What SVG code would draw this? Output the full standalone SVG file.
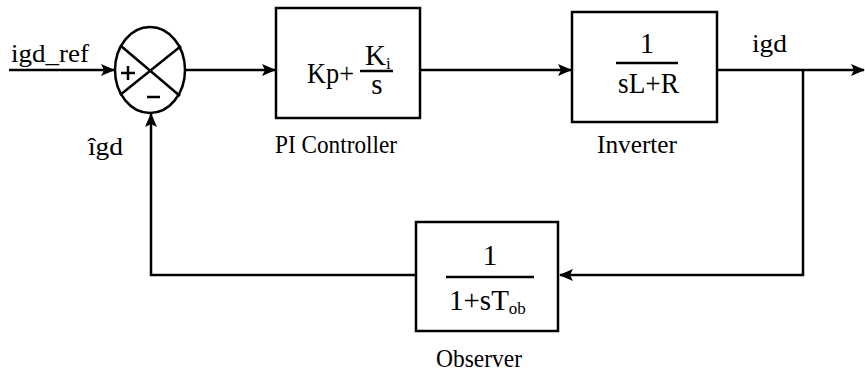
<svg xmlns="http://www.w3.org/2000/svg" width="865" height="371" viewBox="0 0 865 371">
<defs>
<style>
.ln{fill:none;stroke:#000;stroke-width:2.5}
.bx{fill:#fff;stroke:#000;stroke-width:2.5}
text{font-family:"Liberation Serif","Times New Roman",serif;fill:#000}
.lb{font-size:25px}
.mt{font-size:29px}
.sb{font-size:17px}
</style>
<marker id="ar" markerWidth="14" markerHeight="12" refX="13" refY="6" orient="auto" markerUnits="userSpaceOnUse">
<path d="M0,0 L14,6 L0,12 L3,6 Z" fill="#000"/>
</marker>
</defs>
<rect width="865" height="371" fill="#fff"/>
<g id="connectors">
<line class="ln" x1="9" y1="70" x2="114" y2="70" marker-end="url(#ar)"/>
<line class="ln" x1="185" y1="70" x2="275" y2="70" marker-end="url(#ar)"/>
<line class="ln" x1="420" y1="70" x2="571" y2="70" marker-end="url(#ar)"/>
<line class="ln" x1="717" y1="70" x2="864" y2="70" marker-end="url(#ar)"/>
<polyline class="ln" points="803,70 803,275 560,275" marker-end="url(#ar)"/>
<polyline class="ln" points="416,275 151,275 151,114" marker-end="url(#ar)"/>
</g>
<g id="sum">
<ellipse class="bx" cx="150" cy="70" rx="35" ry="43"/>
<line class="ln" x1="121" y1="46" x2="180" y2="96"/>
<line class="ln" x1="181" y1="46" x2="120" y2="95"/>
<line class="ln" x1="121" y1="73" x2="135" y2="73"/>
<line class="ln" x1="128" y1="66" x2="128" y2="80"/>
<line class="ln" x1="147" y1="97" x2="160" y2="97"/>
</g>
<g id="pi">
<rect class="bx" x="276" y="8" width="144" height="110"/>
<text class="mt" x="307" y="83" textLength="47" lengthAdjust="spacingAndGlyphs">Kp+</text>
<text class="mt" x="365" y="65">K<tspan class="sb" dy="4">i</tspan></text>
<line class="ln" x1="360" y1="71" x2="393" y2="71"/>
<text class="mt" x="377" y="94" text-anchor="middle">s</text>
<text class="lb" x="275" y="153" textLength="122" lengthAdjust="spacingAndGlyphs">PI Controller</text>
</g>
<g id="inverter">
<rect class="bx" x="572" y="12" width="145" height="110"/>
<text class="mt" x="647" y="53" text-anchor="middle">1</text>
<line class="ln" x1="616" y1="63" x2="678" y2="63"/>
<text class="mt" x="618" y="93" textLength="61" lengthAdjust="spacingAndGlyphs">sL+R</text>
<text class="lb" x="597" y="153" textLength="80" lengthAdjust="spacingAndGlyphs">Inverter</text>
</g>
<g id="observer">
<rect class="bx" x="416" y="222" width="142" height="109"/>
<text class="mt" x="490" y="265" text-anchor="middle">1</text>
<line class="ln" x1="446" y1="277" x2="534" y2="277"/>
<text class="mt" x="449" y="310">1+sT<tspan class="sb" dy="4">ob</tspan></text>
<text class="lb" x="436" y="367" textLength="86" lengthAdjust="spacingAndGlyphs">Observer</text>
</g>
<g id="labels">
<text class="lb" x="11" y="62" textLength="78" lengthAdjust="spacingAndGlyphs">igd_ref</text>
<text class="lb" x="752" y="52" textLength="35" lengthAdjust="spacingAndGlyphs">igd</text>
<text class="lb" x="88" y="155" textLength="35" lengthAdjust="spacingAndGlyphs">i&#x0302;gd</text>
</g>
</svg>
